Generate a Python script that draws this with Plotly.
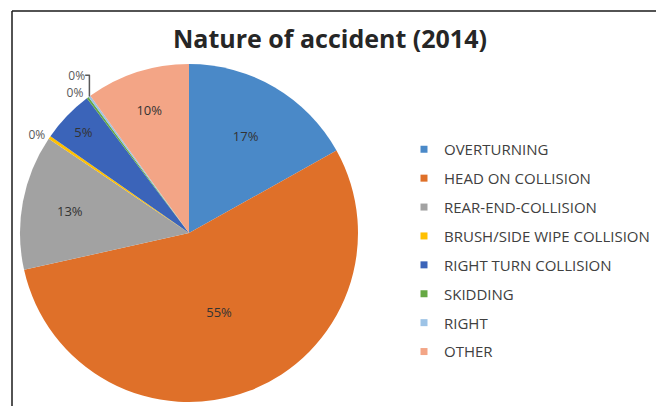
import plotly.graph_objects as go

# Accident categories and their shares (%), 2014
categories = [
    "OVERTURNING",
    "HEAD ON COLLISION",
    "REAR-END-COLLISION",
    "BRUSH/SIDE WIPE COLLISION",
    "RIGHT TURN COLLISION",
    "SKIDDING",
    "RIGHT",
    "OTHER",
]
shares = [17, 55, 13, 0.3, 5, 0.2, 0.2, 10]
colors = ["#4A89C8", "#DF7029", "#A2A2A2", "#FFC000", "#3B64B9", "#66A844", "#9DC3E6", "#F3A586"]
label_pos = ["inside", "inside", "inside", "outside", "inside", "outside", "outside", "inside"]

W, H = 656, 406


def px(x):
    return x / W


def py(y):
    return 1 - y / H


fig = go.Figure()
fig.add_trace(
    go.Pie(
        labels=categories,
        values=shares,
        sort=False,
        direction="clockwise",
        rotation=0,
        marker=dict(colors=colors, line=dict(width=0)),
        texttemplate="%{percent:.0%}",
        textposition=label_pos,
        insidetextorientation="horizontal",
        textfont=dict(family="Open Sans", size=13, color="#333333"),
        outsidetextfont=dict(family="Open Sans", size=12, color="#595959"),
        domain=dict(x=[px(20), px(358)], y=[py(402), py(64)]),
        hoverinfo="label+percent",
        showlegend=False,
    )
)

# Legend entries: one small square marker per category
for name, c in zip(categories, colors):
    fig.add_trace(
        go.Scatter(
            x=[None], y=[None], mode="markers", name=name, legendgroup=name,
            marker=dict(symbol="square", size=7, color=c),
            hoverinfo="skip",
        )
    )

fig.update_layout(
    width=W,
    height=H,
    margin=dict(l=0, r=0, t=0, b=0),
    paper_bgcolor="white",
    plot_bgcolor="white",
    xaxis=dict(visible=False),
    yaxis=dict(visible=False),
    title=dict(
        text="Nature of accident (2014)",
        x=0.503,
        xanchor="center",
        y=py(39),
        yanchor="middle",
        font=dict(family="Open Sans", size=25, color="#262626", weight=700),
    ),
    legend=dict(
        x=px(404),
        y=py(133),
        xanchor="left",
        yanchor="top",
        traceorder="grouped",
        tracegroupgap=6.4,
        font=dict(family="Open Sans", size=15, color="#404040"),
        bgcolor="rgba(0,0,0,0)",
    ),
    shapes=[
        dict(type="line", xref="paper", yref="paper",
             x0=px(12), x1=1, y0=py(11), y1=py(11),
             line=dict(color="#1a1a1a", width=1.5)),
        dict(type="line", xref="paper", yref="paper",
             x0=px(12), x1=px(12), y0=0, y1=py(11),
             line=dict(color="#1a1a1a", width=1.5)),
    ],
)

fig.write_html("out.html")
